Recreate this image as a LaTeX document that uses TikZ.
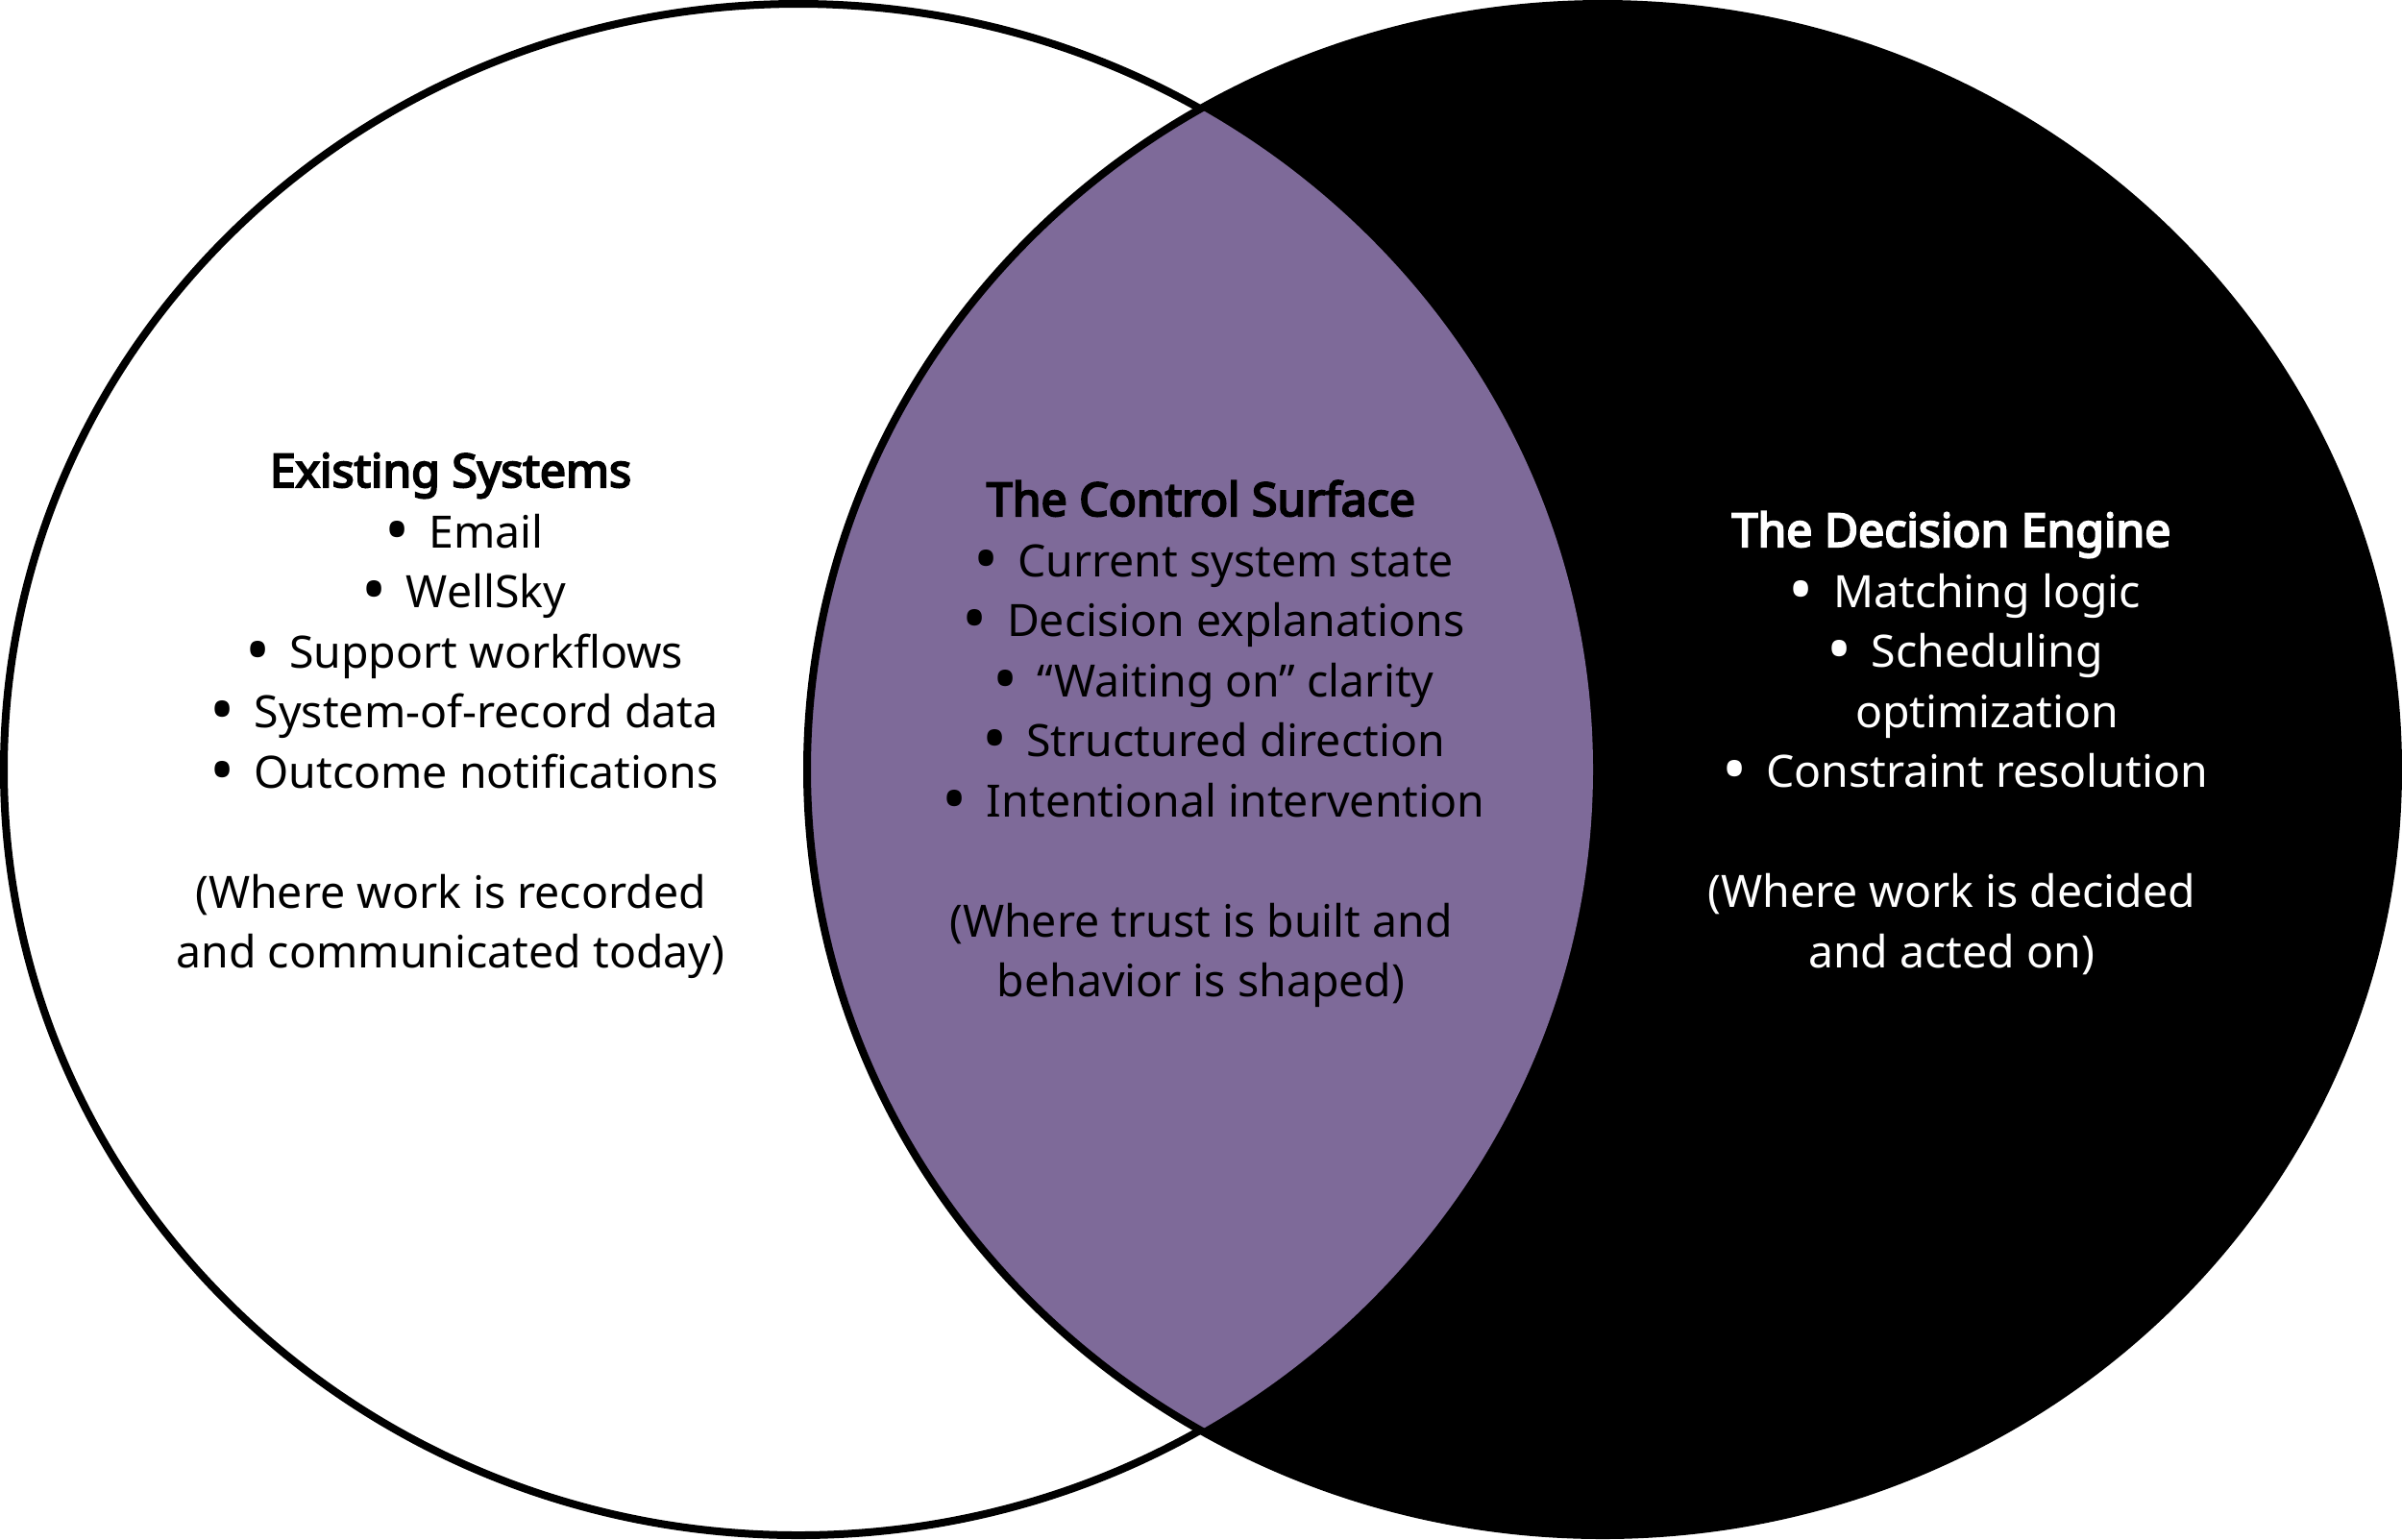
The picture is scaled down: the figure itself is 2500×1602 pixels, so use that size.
\documentclass[tikz,border=0pt]{standalone}
\usepackage{fontspec}
\setmainfont{Noto Sans}[BoldFont={Noto Sans},BoldFeatures={FakeBold=4.2}]
\definecolor{lens}{RGB}{126,106,153}
\newcommand{\bul}{\raisebox{-0.14em}{\scalebox{1.5}{\textbullet}}\hspace{0.2cm}}
\newcommand{\nob}{\phantom{\scalebox{1.5}{\textbullet}}\hspace{0.2cm}}
\begin{document}
\begin{tikzpicture}[x=0.01cm,y=-0.01cm,
  txt/.style={font=\fontsize{13.2pt}{16pt}\selectfont, inner sep=0pt, anchor=base},
  ttl/.style={txt, font=\fontsize{13.7pt}{16pt}\selectfont\bfseries},
  ring/.style={line width=0.08cm, draw=black}]
\useasboundingbox (0,0) rectangle (2500,1602);
\fill[white] (0,0) rectangle (2500,1602);
% shapes
\draw[ring, fill=white] (831,801) ellipse [x radius=827, y radius=797];
\fill[black] (1668,801) ellipse [x radius=828, y radius=797];
\begin{scope}
  \clip (831,801) ellipse [x radius=827, y radius=797];
  \fill[lens] (1668,801) ellipse [x radius=828, y radius=797];
\end{scope}
\draw[ring] (1668,801) ellipse [x radius=828, y radius=797];
% left block
\node[ttl] (l0) at (469,507) {Existing Systems};
\node[txt] (l1) at (483,570) {\bul Email};
\node[txt] (l2) at (483,632) {\bul WellSky};
\node[txt] (l3) at (483,695) {\bul Support workflows};
\node[txt] (l4) at (483,757) {\bul System-of-record data};
\node[txt] (l5) at (483,820) {\bul Outcome notifications};
\node[txt] (l6) at (469,945) {(Where work is recorded};
\node[txt] (l7) at (469,1007) {and communicated today)};
% middle block
\node[ttl] (m0) at (1250,537) {The Control Surface};
\node[txt] (m1) at (1263,600) {\bul Current system state};
\node[txt] (m2) at (1263,662) {\bul Decision explanations};
\node[txt] (m3) at (1263,725) {\bul “Waiting on” clarity};
\node[txt] (m4) at (1263,787) {\bul Structured direction};
\node[txt] (m5) at (1263,850) {\bul Intentional intervention};
\node[txt] (m6) at (1250,975) {(Where trust is built and};
\node[txt] (m7) at (1250,1037) {behavior is shaped)};
% right block
\node[ttl, text=white] (r0) at (2031,569) {The Decision Engine};
\node[txt, text=white] (r1) at (2045,632) {\bul Matching logic};
\node[txt, text=white] (r2) at (2045,694) {\bul Scheduling};
\node[txt, text=white] (r3) at (2045,757) {\nob optimization};
\node[txt, text=white] (r4) at (2045,819) {\bul Constraint resolution};
\node[txt, text=white] (r5) at (2031,944) {(Where work is decided};
\node[txt, text=white] (r6) at (2031,1007) {and acted on)};
\end{tikzpicture}
\end{document}
